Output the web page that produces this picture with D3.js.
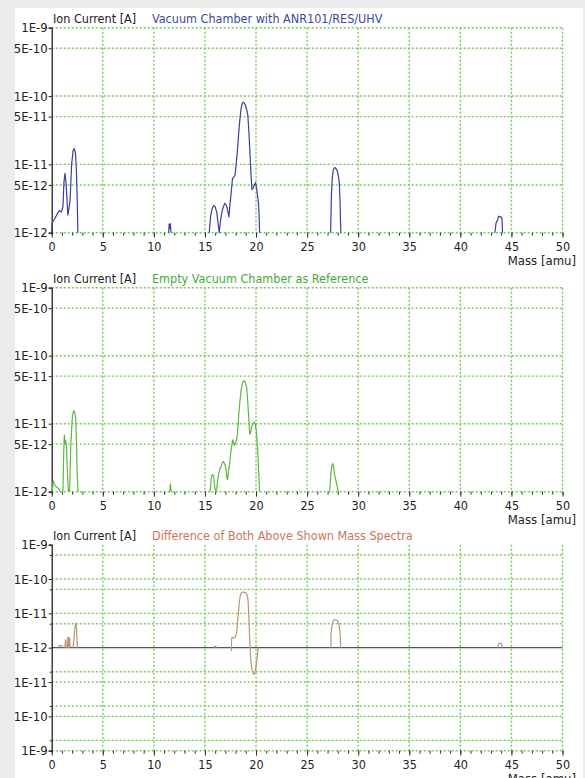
<!DOCTYPE html>
<html>
<head>
<meta charset="utf-8">
<script src="https://cdnjs.cloudflare.com/ajax/libs/d3/7.8.5/d3.min.js"></script>
<style>
    html, body { margin: 0; padding: 0; background: #ebebeb; }
    #chart { width: 585px; height: 778px; }
    text { font-family: "DejaVu Sans Condensed", "DejaVu Sans", sans-serif; font-size: 12.5px; fill: #222; }
</style>
</head>
<body>
<div id="chart"></div>
<script>
// axis ticks
var massTicks = [0, 5, 10, 15, 20, 25, 30, 35, 40, 45, 50];
var logTicks = [1e-9, 5e-10, 1e-10, 5e-11, 1e-11, 5e-12, 1e-12];
var logTickLabels = ["1E-9", "5E-10", "1E-10", "5E-11", "1E-11", "5E-12", "1E-12"];
// difference plot: signed decades above / below 1E-12
var diffTicks = [3, 2, 1, 0, -1, -2, -3];
var diffTickLabels = ["1E-9", "1E-10", "1E-11", "1E-12", "1E-11", "1E-10", "1E-9"];

var yTitle = "Ion Current [A]";
var xTitle = "Mass [amu]";
var seriesTitles = ["Vacuum Chamber with ANR101/RES/UHV", "Empty Vacuum Chamber as Reference", "Difference of Both Above Shown Mass Spectra"];

// chamber with ANR101 (null = gap between peaks)
var massAnr = [0.0, 0.05, 0.3, 0.55, 0.75, 0.95, 1.1, 1.2, 1.3, 1.42, 1.5, 1.58, 1.68, 1.8, 1.95, 2.1, 2.2, 2.32, 2.42, 2.5, 2.56, null,
    11.45, 11.5, 11.55, 11.62, 11.68, null,
    15.42, 15.55, 15.68, 15.85, 16.0, 16.15, 16.3, 16.4, 16.5, 16.63, 16.8, 16.96, 17.1, 17.2, 17.35, 17.45, 17.55, 17.7, 17.85, 17.95,
    18.08, 18.18, 18.3, 18.4, 18.52, 18.65, 18.75, 18.88, 18.98, 19.1, 19.2, 19.3, 19.4, 19.5, 19.6, 19.72, 19.82, 19.95, 20.05, 20.15, 20.25, 20.3, 20.35, null,
    27.3, 27.38, 27.45, 27.56, 27.7, 27.85, 27.95, 28.08, 28.15, 28.22, 28.3, null,
    43.38, 43.5, 43.62, 43.75, 43.85, 44.0, 44.08, 44.13];
var currentAnr = [1.0e-12, 1.4e-12, 1.6e-12, 1.9e-12, 2.1e-12, 2.0e-12, 2.4e-12, 5.5e-12, 7.4e-12, 5.0e-12, 3.0e-12, 1.8e-12, 2.2e-12, 3.0e-12, 1.0e-11, 1.6e-11, 1.7e-11, 1.5e-11, 8e-12, 3e-12, 1.0e-12, null,
    1.0e-12, 1.35e-12, 1.15e-12, 1.35e-12, 1.0e-12, null,
    1.0e-12, 1.7e-12, 2.2e-12, 2.5e-12, 2.4e-12, 2.0e-12, 1.3e-12, 1.0e-12, 1.4e-12, 1.9e-12, 2.4e-12, 2.7e-12, 2.5e-12, 2.2e-12, 1.7e-12, 2.6e-12, 3.6e-12, 6.2e-12, 6.6e-12, 7.0e-12,
    1.1e-11, 1.6e-11, 2.8e-11, 4.2e-11, 6.3e-11, 7.8e-11, 8.1e-11, 7.8e-11, 7.2e-11, 6.2e-11, 5.2e-11, 3.0e-11, 1.5e-11, 7.5e-12, 4.3e-12, 4.5e-12, 4.9e-12, 5.4e-12, 4.5e-12, 3.5e-12, 2.6e-12, 1.8e-12, 1.0e-12, null,
    1.0e-12, 3.5e-12, 6.0e-12, 8.3e-12, 9.0e-12, 8.6e-12, 8.1e-12, 6.5e-12, 5.5e-12, 3.0e-12, 1.0e-12, null,
    1.0e-12, 1.4e-12, 1.5e-12, 1.75e-12, 1.7e-12, 1.7e-12, 1.6e-12, 1.0e-12];

// empty reference chamber
var massRef = [0.05, 0.15, 0.25, 0.4, 0.55, 0.7, 0.85, null,
    1.1, 1.17, 1.24, 1.32, 1.38, 1.45, 1.53, 1.6, 1.65, null,
    1.75, 1.86, 1.95, 2.02, 2.12, 2.18, 2.28, 2.35, 2.43, 2.5, 2.58, null,
    11.55, 11.62, 11.7, null,
    15.5, 15.62, 15.72, 15.85, 15.95, 16.05, 16.15, 16.3, 16.47, 16.65, 16.79, 16.92, 17.05, 17.15, 17.22, 17.3, 17.38, 17.5, 17.61, 17.72, 17.8, 17.9, 18.0, 18.1,
    18.2, 18.3, 18.42, 18.55, 18.7, 18.85, 18.95, 19.08, 19.18, 19.28, 19.38, 19.48, 19.57, 19.7, 19.8, 19.92, 20.02, 20.12, 20.22, 20.28, 20.35, null,
    27.2, 27.3, 27.4, 27.5, 27.58, 27.68, 27.8, 27.95, 28.05];
var currentRef = [1.0e-12, 1.45e-12, 1.3e-12, 1.2e-12, 1.15e-12, 1.1e-12, 1.0e-12, null,
    1.0e-12, 3.5e-12, 6.8e-12, 5.0e-12, 5.6e-12, 4.5e-12, 2.0e-12, 1.2e-12, 1.0e-12, null,
    1.0e-12, 4.6e-12, 8e-12, 1.26e-11, 1.5e-11, 1.55e-11, 1.4e-11, 1.2e-11, 5e-12, 1.7e-12, 1.0e-12, null,
    1.0e-12, 1.3e-12, 1.0e-12, null,
    1.0e-12, 1.6e-12, 1.8e-12, 1.7e-12, 1.2e-12, 1.0e-12, 1.1e-12, 1.7e-12, 2.2e-12, 2.5e-12, 2.8e-12, 2.6e-12, 2.2e-12, 1.6e-12, 1.5e-12, 2.0e-12, 2.3e-12, 3.5e-12, 4.6e-12, 5.8e-12, 5.3e-12, 4.8e-12, 5.3e-12, 5.8e-12,
    7.5e-12, 1.3e-11, 2.1e-11, 3.2e-11, 4.1e-11, 4.3e-11, 4.0e-11, 3.5e-11, 2.2e-11, 1.3e-11, 7.0e-12, 7.5e-12, 9.0e-12, 1.0e-11, 1.05e-11, 1.0e-11, 8.0e-12, 5.0e-12, 2.8e-12, 1.7e-12, 1.0e-12, null,
    1.0e-12, 1.6e-12, 2.3e-12, 2.6e-12, 2.4e-12, 1.8e-12, 1.5e-12, 1.2e-12, 1.0e-12];

// difference, signed (negative = reference higher), 0 = on the 1E-12 line
var massDiff = [0.65, 0.7, 1.0, 1.05, null,
    1.3, 1.34, 1.38, 1.42, null,
    1.55, 1.58, 1.63, 1.67, 1.72, 1.76, 1.8, null,
    2.1, 2.2, 2.28, 2.36, 2.42, 2.48, 2.52, null,
    15.9, 15.93, 16.08, 16.1, null,
    17.58, 17.62, 17.7, 17.85, 17.95, 18.1, 18.2, 18.28, 18.36, 18.45, 18.55, 18.7, 18.85, 19.0, 19.12, 19.22, 19.3, 19.36, 19.42,
    19.5, 19.6, 19.7, 19.8, 19.9, 20.0, 20.1, 20.15, 20.22, null,
    27.33, 27.35, 27.45, 27.55, 27.65, 27.8, 27.95, 28.1, 28.25, 28.28, null,
    43.65, 43.75, 43.9, 44.05, 44.1];
var currentDiff = [0, 1.15e-12, 1.15e-12, 0, null,
    0, 1.7e-12, 1.7e-12, 0, null,
    0, 2.0e-12, 2.0e-12, 0, 1.9e-12, 1.9e-12, 0, null,
    0, 2.2e-12, 4.0e-12, 5.2e-12, 4.0e-12, 1.5e-12, 0, null,
    0, 1.1e-12, 1.1e-12, 0, null,
    -1.25e-12, 1.9e-12, 2.0e-12, 1.9e-12, 2.0e-12, 2.6e-12, 6e-12, 1.1e-11, 2.0e-11, 3.2e-11, 4.0e-11, 4.2e-11, 4.1e-11, 4.0e-11, 3.5e-11, 2.5e-11, 8e-12, 2.5e-12, 0,
    -2.5e-12, -4.5e-12, -5.6e-12, -5.9e-12, -5.0e-12, -3.5e-12, -2.2e-12, -1.4e-12, 0, null,
    0, 2.9e-12, 4.5e-12, 6.0e-12, 6.5e-12, 6.5e-12, 6.2e-12, 5.0e-12, 2.4e-12, 0, null,
    0, 1.3e-12, 1.35e-12, 1.3e-12, 0];

var gridColor = "#74c95a";
var seriesColors = ["#3a3f9c", "#5cb843", "#b89479"];
var titleColors = ["#3b4aa0", "#3fae36", "#c8785a"];

var svg = d3.select("#chart").append("svg")
    .attr("width", 585)
    .attr("height", 778);

svg.append("rect")
    .attr("x", 15).attr("y", 8)
    .attr("width", 568).attr("height", 780)
    .attr("fill", "#fff");

var x = d3.scaleLinear().domain([0, 50]).range([51.7, 562.5]);

function toPoints(mass, values) {
    return mass.map(function(m, i) { return { m: m, v: values[i] }; });
}

function signedDecades(v) {
    if (Math.abs(v) <= 1e-12) return 0;
    return Math.sign(v) * Math.log10(Math.abs(v) / 1e-12);
}

function drawPanel(cfg) {
    var g = svg.append("g");
    var top = cfg.y.range()[1], bottom = cfg.y.range()[0];

    // dotted grid
    g.selectAll("line.hgrid").data(cfg.grid).enter().append("line")
        .attr("x1", x(0)).attr("x2", x(50))
        .attr("y1", function(d) { return cfg.y(d); })
        .attr("y2", function(d) { return cfg.y(d); })
        .attr("stroke", gridColor).attr("stroke-width", 1.4)
        .attr("stroke-dasharray", "2,2");
    g.selectAll("line.vgrid").data(massTicks.slice(1)).enter().append("line")
        .attr("x1", function(d) { return x(d); })
        .attr("x2", function(d) { return x(d); })
        .attr("y1", top).attr("y2", bottom)
        .attr("stroke", gridColor).attr("stroke-width", 1.4)
        .attr("stroke-dasharray", "2,2");

    if (cfg.centerLine) {
        g.append("line")
            .attr("x1", x(0)).attr("x2", x(50))
            .attr("y1", cfg.y(0)).attr("y2", cfg.y(0))
            .attr("stroke", "#555").attr("stroke-width", 1.3);
    }

    // x axis: minor ticks each amu, labelled every 5
    var xMinor = g.append("g")
        .attr("transform", "translate(0," + bottom + ")")
        .call(d3.axisBottom(x).tickValues(d3.range(0, 51)).tickSize(3).tickFormat(""));
    var xAxis = g.append("g")
        .attr("transform", "translate(0," + bottom + ")")
        .call(d3.axisBottom(x).tickValues(massTicks).tickSize(5).tickPadding(4));
    [xMinor, xAxis].forEach(function(a) {
        a.select(".domain").remove();
        a.selectAll("line").attr("stroke", "#333");
    });
    xAxis.selectAll("text").style("font-size", "12.5px");

    // y axis
    var yAxis = g.append("g")
        .attr("transform", "translate(" + x(0) + ",0)")
        .call(d3.axisLeft(cfg.y).tickValues(cfg.ticks).tickSize(3).tickPadding(1)
            .tickFormat(function(d, i) { return cfg.labels[i]; }));
    yAxis.select(".domain").attr("stroke", "#222").attr("stroke-width", 1.3);
    yAxis.selectAll("line").attr("stroke", "#222");
    yAxis.selectAll("text").style("font-size", "13px");
    if (cfg.minor) {
        g.append("g")
            .attr("transform", "translate(" + x(0) + ",0)")
            .call(d3.axisLeft(cfg.y).tickValues(cfg.minor).tickSize(2).tickFormat(""))
            .call(function(a) { a.select(".domain").remove(); a.selectAll("line").attr("stroke", "#222"); });
    }

    // curve
    var line = d3.line()
        .defined(function(d) { return d.v !== null; })
        .x(function(d) { return x(d.m); })
        .y(function(d) { return cfg.y(cfg.value(d.v)); });
    g.append("path")
        .datum(cfg.points)
        .attr("d", line)
        .attr("fill", "none")
        .attr("stroke", cfg.color)
        .attr("stroke-width", 1.2)
        .attr("stroke-linejoin", "round");

    // titles
    g.append("text").attr("x", 53).attr("y", top - 5).text(yTitle);
    g.append("text").attr("x", 152).attr("y", top - 5)
        .style("fill", cfg.titleColor).text(cfg.title);
    g.append("text").attr("x", 576).attr("y", bottom + 32)
        .attr("text-anchor", "end").style("font-size", "13px").text(xTitle);
}

var logPanels = [
    { top: 27.7, bottom: 232.7, mass: massAnr, values: currentAnr },
    { top: 287.7, bottom: 491.7, mass: massRef, values: currentRef }
];

logPanels.forEach(function(p, i) {
    var y = d3.scaleLog().domain([1e-12, 1e-9]).range([p.bottom, p.top]);
    drawPanel({
        y: y,
        ticks: logTicks,
        labels: logTickLabels,
        grid: logTicks.slice(),
        value: function(v) { return Math.max(v, 1e-12); },
        points: toPoints(p.mass, p.values),
        color: seriesColors[i],
        titleColor: titleColors[i],
        title: seriesTitles[i]
    });
});

var yDiff = d3.scaleLinear().domain([-3, 3]).range([750.7, 544.7]);
var half = Math.log10(5);
drawPanel({
    y: yDiff,
    ticks: diffTicks,
    labels: diffTickLabels,
    grid: [2 + half, 2, 1 + half, 1, half, -half, -1, -1 - half, -2, -2 - half, -3],
    minor: [2 + half, 1 + half, half, -half, -1 - half, -2 - half],
    centerLine: true,
    value: signedDecades,
    points: toPoints(massDiff, currentDiff),
    color: seriesColors[2],
    titleColor: titleColors[2],
    title: seriesTitles[2]
});
</script>
</body>
</html>
